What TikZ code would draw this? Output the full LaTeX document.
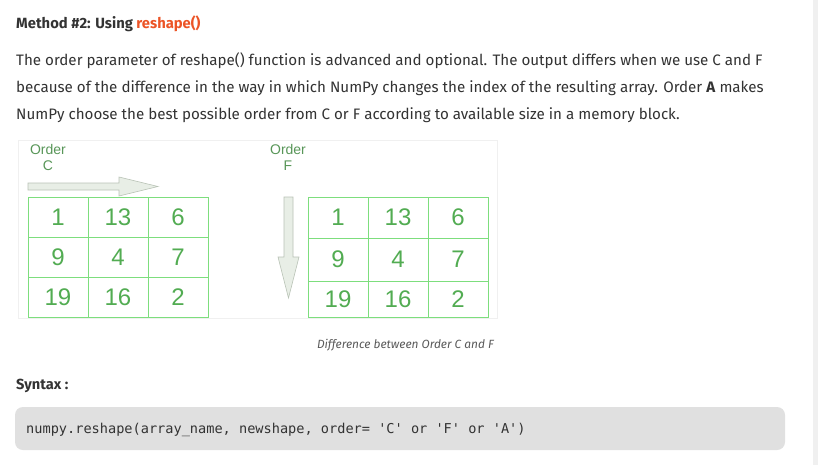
\documentclass[tikz,border=0pt]{standalone}
\usepackage{fontspec}
\setmainfont{Fira Sans}
\newfontfamily\arialf{Liberation Sans}
\newfontfamily\codef{DejaVu Sans Mono}
\definecolor{txt}{RGB}{51,51,51}
\definecolor{ttl}{RGB}{236,84,38}
\definecolor{gline}{RGB}{125,222,125}
\definecolor{gnum}{RGB}{82,172,82}
\definecolor{gord}{RGB}{88,150,88}
\definecolor{arrfill}{RGB}{232,238,230}
\definecolor{arrdraw}{RGB}{185,195,182}
\definecolor{codebg}{RGB}{224,224,224}
\definecolor{strip}{RGB}{240,240,240}
\definecolor{capc}{RGB}{90,90,90}
\tikzset{
  line/.style={anchor=base west, inner sep=0pt, text=txt, font=\fontsize{15.15}{18}\selectfont},
  cellc/.style={draw=gline, line width=0.9pt, minimum width=60pt, minimum height=40pt, inner sep=0pt, text=gnum, font=\arialf\fontsize{24}{26}\selectfont},
  ordlbl/.style={align=center, inner sep=0pt, text=gord, font=\arialf\fontsize{14}{16}\selectfont},
  blockarrow/.style={fill=arrfill, draw=arrdraw, line width=0.6pt}
}
\begin{document}
\begin{tikzpicture}[x=1pt,y=-1pt]
\useasboundingbox (0,0) rectangle (818,465);
\fill[white] (0,0) rectangle (818,465);
\fill[strip] (813,0) rectangle (818,465);

\node[line, font=\fontsize{14.8}{18}\selectfont\bfseries] (title) at (16,29) {Method \#2: Using \textcolor{ttl}{reshape()}};
\node[line] (l1) at (16,66) {The order parameter of reshape() function is advanced and optional. The output differs when we use C and F};
\node[line] (l2) at (16,93) {because of the difference in the way in which NumPy changes the index of the resulting array. Order \textbf{A} makes};
\node[line] (l3) at (16,120) {NumPy choose the best possible order from C or F according to available size in a memory block.};

% figure frame
\draw[draw=strip, fill=white, line width=0.8pt] (18,140) rectangle (497,318);

\node[ordlbl] (ordC) at (48,157) {Order\\C};
\node[ordlbl] (ordF) at (288,157) {Order\\F};

% right arrow
\draw[blockarrow] (28,183) -- (119,183) -- (119,177) -- (158,186.5) -- (119,196) -- (119,190) -- (28,190) -- cycle;
% down arrow
\draw[blockarrow] (284,197) -- (293,197) -- (293,257) -- (299,257) -- (288.5,298) -- (278,257) -- (284,257) -- cycle;

% grid C
\foreach \r/\y/\a/\b/\c in {1/217/1/13/6, 2/257/9/4/7, 3/297/19/16/2}{
  \node[cellc] (c\r a) at (58,\y) {\a};
  \node[cellc] (c\r b) at (118,\y) {\b};
  \node[cellc] (c\r c) at (178,\y) {\c};
}
% grid F
\foreach \r/\y/\h/\a/\b/\c in {1/217.5/41/1/13/6, 2/259.5/43/9/4/7, 3/299/36/19/16/2}{
  \node[cellc, minimum height=\h pt] (f\r a) at (338,\y) {\a};
  \node[cellc, minimum height=\h pt] (f\r b) at (398,\y) {\b};
  \node[cellc, minimum height=\h pt] (f\r c) at (458,\y) {\c};
}

\node[anchor=base, inner sep=0pt, text=capc, font=\fontsize{11.9}{13}\selectfont\itshape] (cap) at (405.5,348) {Difference between Order C and F};

\node[line, font=\fontsize{14.6}{18}\selectfont\bfseries] (syn) at (16,389) {Syntax :};

\fill[codebg, rounded corners=8pt] (15,407) rectangle (785,450);
\node[anchor=base west, inner sep=0pt, text=txt, font=\codef\fontsize{13.6}{15}\selectfont] (code) at (26,433) {numpy.reshape(array\_name, newshape, order= 'C' or 'F' or 'A')};
\end{tikzpicture}
\end{document}
